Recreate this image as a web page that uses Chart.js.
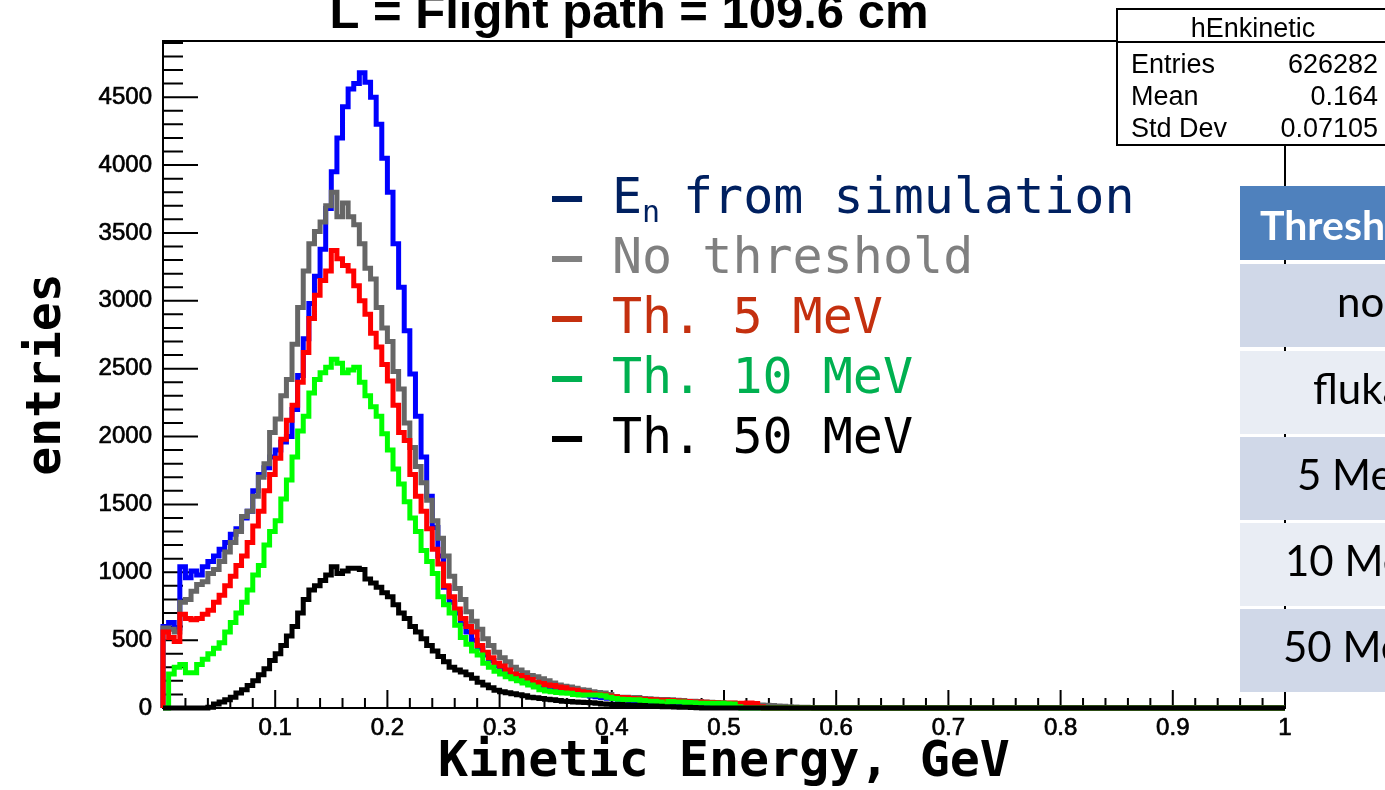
<!DOCTYPE html>
<html>
<head>
<meta charset="utf-8">
<title>hEnkinetic</title>
<script src="https://cdn.jsdelivr.net/npm/chart.js@4.4.0/dist/chart.umd.min.js"></script>
<style>
  html, body { margin: 0; padding: 0; background: #fff; }
  canvas { display: block; }
</style>
</head>
<body>
<canvas id="hEnkinetic" width="1385" height="790"></canvas>
<script>
// kinetic energy histograms, 0.005 GeV bins starting at 0
const binWidth = 0.005;

const enSimulation = [
  600, 630, 590, 1040, 960, 1010, 980, 1040, 1080, 1120,
  1170, 1220, 1280, 1320, 1400, 1450, 1600, 1720, 1770, 1850,
  1900, 1960, 2000, 2200, 2450, 2720, 2980, 3180, 3380, 3680,
  3950, 4200, 4430, 4560, 4600, 4680, 4610, 4500, 4300, 4050,
  3800, 3420, 3100, 2780, 2460, 2150, 1850, 1560, 1330, 1120,
  890, 780, 700, 620, 560, 500, 440, 390, 350, 310,
  280, 250, 230, 210, 195, 180, 170, 160, 150, 140,
  130, 120, 115, 105, 100, 95, 88, 82, 78, 72,
  68, 62, 60, 55, 52, 50, 48, 45, 42, 40,
  38, 36, 34, 32, 30, 28, 26, 24, 22, 20,
  18, 16, 14, 12, 10, 9, 8, 7, 6, 5,
  4, 3, 2, 2, 1, 1
];
const noThreshold = [
  590, 580, 560, 780, 800, 860, 910, 930, 990, 1020,
  1080, 1150, 1220, 1300, 1410, 1450, 1560, 1700, 1800, 2030,
  2130, 2300, 2420, 2680, 2950, 3220, 3420, 3510, 3580, 3700,
  3800, 3620, 3720, 3620, 3560, 3420, 3240, 3160, 2950, 2800,
  2700, 2480, 2350, 2100, 1920, 1780, 1660, 1530, 1380, 1250,
  1120, 970, 880, 800, 710, 640, 580, 510, 460, 410,
  370, 340, 300, 280, 260, 240, 230, 215, 200, 185,
  170, 160, 155, 145, 135, 130, 120, 115, 110, 100,
  85, 80, 80, 75, 78, 70, 68, 65, 62, 62,
  60, 58, 55, 50, 50, 48, 45, 42, 40, 38,
  35, 35, 32, 30, 28, 25, 22, 20, 18, 15,
  12, 10, 8, 6, 5, 4
];
const th5MeV = [
  560, 520, 490, 690, 660, 650, 660, 690, 720, 780,
  830, 900, 970, 1050, 1120, 1220, 1340, 1450, 1600, 1720,
  1840, 1980, 2120, 2230, 2400, 2620, 2870, 3040, 3150, 3220,
  3370, 3310, 3260, 3220, 3110, 3000, 2900, 2760, 2660, 2530,
  2410, 2230, 2030, 1970, 1720, 1560, 1450, 1320, 1170, 1060,
  900, 820, 730, 660, 600, 560, 460, 410, 370, 330,
  310, 280, 250, 240, 225, 210, 190, 180, 170, 165,
  155, 150, 135, 130, 120, 115, 105, 100, 95, 88,
  82, 78, 75, 70, 68, 65, 62, 60, 58, 58,
  55, 52, 50, 48, 45, 45, 42, 40, 38, 36,
  35, 36, 34, 35, 36, 33, 10
];
const th10MeV = [
  0, 250, 300, 320, 260, 260, 320, 360, 400, 440,
  480, 560, 630, 700, 780, 870, 980, 1050, 1200, 1300,
  1380, 1540, 1680, 1850, 2040, 2150, 2320, 2420, 2470, 2510,
  2570, 2540, 2470, 2490, 2510, 2400, 2300, 2220, 2150, 2020,
  1900, 1760, 1650, 1520, 1400, 1300, 1160, 1080, 990, 820,
  760, 700, 610, 520, 470, 420, 390, 330, 300, 270,
  250, 230, 215, 200, 185, 170, 155, 135, 125, 120,
  115, 110, 108, 100, 95, 95, 95, 95, 90, 80,
  70, 65, 62, 60, 60, 55, 50, 50, 45, 30,
  48, 45, 45, 40, 38, 35, 35, 35, 33, 35,
  32, 30, 10
];
const th50MeV = [
  0, 0, 0, 0, 0, 0, 0, 0, 5, 30,
  45, 60, 80, 110, 135, 165, 200, 245, 290, 350,
  400, 460, 530, 600, 700, 800, 870, 900, 940, 980,
  1040, 990, 1010, 1030, 1030, 1020, 950, 920, 890, 850,
  820, 760, 700, 660, 600, 560, 510, 460, 420, 380,
  340, 300, 280, 265, 245, 220, 190, 170, 150, 130,
  120, 112, 105, 98, 90, 80, 75, 70, 65, 60,
  55, 50, 48, 45, 42, 40, 38, 35, 30, 28,
  25, 25, 22, 20, 20, 18, 15, 15, 12, 10,
  10, 8, 6, 5, 4, 2
];

const xTicks = [0.1, 0.2, 0.3, 0.4, 0.5, 0.6, 0.7, 0.8, 0.9, 1];
const xTickLabels = ['0.1', '0.2', '0.3', '0.4', '0.5', '0.6', '0.7', '0.8', '0.9', '1'];
const yTicks = [0, 500, 1000, 1500, 2000, 2500, 3000, 3500, 4000, 4500];
const yTickLabels = ['0', '500', '1000', '1500', '2000', '2500', '3000', '3500', '4000', '4500'];

const legendLabels = ['E', 'No threshold', 'Th. 5 MeV', 'Th. 10 MeV', 'Th. 50 MeV'];
const legendColors = ['#002060', '#808080', '#C4300F', '#00B050', '#000000'];

const statsTitle = 'hEnkinetic';
const statsNames = ['Entries', 'Mean', 'Std Dev'];
const statsValues = ['626282', '0.164', '0.07105'];

const tableHeader = 'Threshold';
const tableRows = ['no', 'fluka', '5 MeV', '10 MeV', '50 MeV'];

// bin contents -> outline points at the left edge of each bin
function histPoints(values) {
  const pts = [{x: 0, y: 0}];
  values.forEach((v, i) => pts.push({x: i * binWidth, y: v}));
  pts.push({x: values.length * binWidth, y: 0});
  pts.push({x: 1, y: 0});
  return pts;
}

function histSet(label, values, color, order) {
  return {
    label: label,
    data: histPoints(values),
    borderColor: color,
    borderWidth: 5,
    stepped: true,
    pointRadius: 0,
    fill: false,
    order: order,
    clip: 6
  };
}

// ROOT-style frame with inward tick marks
const rootFrame = {
  id: 'rootFrame',
  beforeDatasetsDraw(chart) {
    const {ctx, chartArea: a, scales: {x, y}} = chart;
    ctx.save();
    ctx.strokeStyle = '#000';
    ctx.lineWidth = 2;
    ctx.strokeRect(a.left, a.top, a.right - a.left, a.bottom - a.top);
    ctx.beginPath();
    for (let v = 0; v <= y.max; v += 100) {
      const py = y.getPixelForValue(v);
      const len = v % 500 === 0 ? 35 : 20;
      ctx.moveTo(a.left, py);
      ctx.lineTo(a.left + len, py);
    }
    for (let i = 0; i <= 50; i++) {
      const px = x.getPixelForValue(i * 0.02);
      const len = i % 5 === 0 ? 18 : 10;
      ctx.moveTo(px, a.bottom);
      ctx.lineTo(px, a.bottom - len);
    }
    ctx.stroke();
    ctx.restore();
  }
};

// title, text legend, stats box and the threshold table
const overlays = {
  id: 'overlays',
  afterDraw(chart) {
    const ctx = chart.ctx;
    ctx.save();

    ctx.fillStyle = '#000';
    ctx.font = 'bold 49px "Liberation Sans"';
    ctx.textAlign = 'center';
    ctx.textBaseline = 'alphabetic';
    ctx.fillText('L = Flight path = 109.6 cm', 629, 28);

    ctx.textAlign = 'left';
    legendLabels.forEach((label, i) => {
      const base = 213 + i * 60;
      ctx.fillStyle = legendColors[i];
      ctx.font = 'bold 50px "DejaVu Sans Mono"';
      ctx.fillText('\u2013', 552, base);
      ctx.font = '50px "DejaVu Sans Mono"';
      ctx.fillText(label, 612, base);
      if (i === 0) {
        ctx.font = '30px "DejaVu Sans Mono"';
        ctx.fillText('n', 642, base + 9);
        ctx.font = '50px "DejaVu Sans Mono"';
        ctx.fillText('from simulation', 683, base);
      }
    });

    // stats box
    ctx.fillStyle = '#fff';
    ctx.fillRect(1117, 9, 272, 136);
    ctx.strokeStyle = '#000';
    ctx.lineWidth = 2;
    ctx.strokeRect(1117, 9, 272, 136);
    ctx.beginPath();
    ctx.moveTo(1117, 42);
    ctx.lineTo(1389, 42);
    ctx.stroke();
    ctx.fillStyle = '#000';
    ctx.font = '27px "Liberation Sans"';
    ctx.textAlign = 'center';
    ctx.fillText(statsTitle, 1253, 37);
    statsNames.forEach((name, i) => {
      const base = 73 + i * 32;
      ctx.textAlign = 'left';
      ctx.fillText(name, 1131, base);
      ctx.textAlign = 'right';
      ctx.fillText(statsValues[i], 1378, base);
    });

    // threshold table
    ctx.fillStyle = '#4F81BD';
    ctx.fillRect(1240, 186, 160, 74);
    ctx.fillStyle = '#fff';
    ctx.font = 'bold 41px Lato';
    ctx.textAlign = 'left';
    ctx.fillText(tableHeader, 1260, 240);
    const rowTops = [264, 351, 437, 523, 609];
    const rowText = [1337, 1313, 1297, 1285, 1283];
    rowTops.forEach((top, i) => {
      ctx.fillStyle = i % 2 === 0 ? '#D0D8E8' : '#E9EDF4';
      ctx.fillRect(1240, top, 160, 83);
      ctx.fillStyle = '#000';
      ctx.font = '42px Lato';
      ctx.fillText(tableRows[i], rowText[i], top + 53);
    });

    ctx.restore();
  }
};

new Chart(document.getElementById('hEnkinetic').getContext('2d'), {
  type: 'line',
  data: {
    datasets: [
      histSet('E_n from simulation', enSimulation, '#0000FF', 5),
      histSet('No threshold', noThreshold, '#666666', 4),
      histSet('Th. 5 MeV', th5MeV, '#FF0000', 3),
      histSet('Th. 10 MeV', th10MeV, '#00FF00', 2),
      histSet('Th. 50 MeV', th50MeV, '#000000', 1)
    ]
  },
  options: {
    responsive: false,
    animation: false,
    devicePixelRatio: 1,
    layout: { padding: { top: 41, right: 100, left: 0, bottom: 0 } },
    plugins: { legend: { display: false }, tooltip: { enabled: false } },
    scales: {
      x: {
        type: 'linear',
        min: 0,
        max: 1,
        grid: { display: false, drawTicks: false },
        border: { display: false },
        afterBuildTicks: s => { s.ticks = xTicks.map(v => ({ value: v })); },
        afterFit: s => { s.height = 82; },
        ticks: {
          color: '#000',
          font: { family: 'Liberation Sans', size: 24 },
          textStrokeColor: '#000',
          textStrokeWidth: 0.7,
          padding: 6,
          maxRotation: 0,
          autoSkip: false,
          callback: (v, i) => xTickLabels[i]
        },
        title: {
          display: true,
          text: 'Kinetic Energy, GeV',
          color: '#000',
          font: { family: 'DejaVu Sans Mono', size: 50, weight: 'bold', lineHeight: 1 },
          padding: { top: 0, bottom: 2 }
        }
      },
      y: {
        min: 0,
        max: 4914,
        grid: { display: false, drawTicks: false },
        border: { display: false },
        afterBuildTicks: s => { s.ticks = yTicks.map(v => ({ value: v })); },
        afterFit: s => { s.width = 163; },
        ticks: {
          color: '#000',
          font: { family: 'Liberation Sans', size: 24 },
          textStrokeColor: '#000',
          textStrokeWidth: 0.7,
          padding: 11,
          autoSkip: false,
          callback: (v, i) => yTickLabels[i]
        },
        title: {
          display: true,
          text: 'entries',
          color: '#000',
          font: { family: 'DejaVu Sans Mono', size: 48, weight: 'bold', lineHeight: 1 },
          padding: { top: 24, bottom: 0 }
        }
      }
    }
  },
  plugins: [rootFrame, overlays]
});
</script>
</body>
</html>
